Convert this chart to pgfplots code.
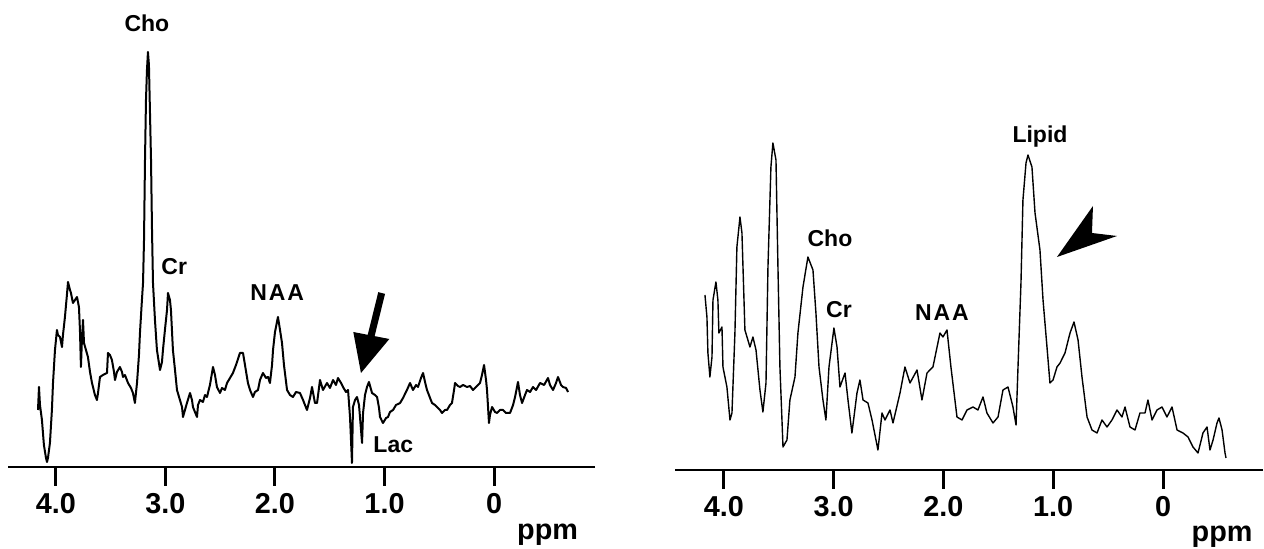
\documentclass[border=0pt]{standalone}
\usepackage{fontspec}
\setmainfont{Liberation Sans}
\usepackage{pgfplots}
\pgfplotsset{compat=1.18}
\tikzset{lab/.style={font=\fontsize{11.5}{14}\selectfont\bfseries, inner sep=0pt, anchor=center}}
\begin{document}
\begin{tikzpicture}
\path[use as bounding box] (0,0) rectangle (632pt,274.5pt);
\pgfplotsset{
  spec/.style={
    scale only axis,
    x dir=reverse,
    ymin=0, ymax=420, height=210pt,
    axis x line=bottom, axis y line=none,
    axis line style={line width=1.4pt,-},
    tick align=outside, major tick length=9.5pt,
    xtick={0,1,2,3,4}, xticklabels={0,1.0,2.0,3.0,4.0},
    xtick style={line width=1.5pt,black},
    xticklabel style={font=\fontsize{14.4}{17}\selectfont\bfseries},
    clip=false,
  },
}
% ---------------- left spectrum ----------------
\begin{axis}[spec, at={(4pt,41pt)}, anchor=south west,
  xmin=-0.922, xmax=4.438, width=293.5pt]
\addplot[black, line width=1.0pt, line join=round] coordinates {
(4.164,57)(4.155,80)(4.146,62)(4.128,47)(4.110,22)(4.091,9)(4.082,5)(4.073,9)(4.055,24)(4.037,57)
(4.027,84)(4.009,117)(3.991,137)(3.982,132)(3.963,130)(3.945,120)(3.936,132)(3.918,150)(3.900,172)(3.890,185)
(3.872,177)(3.863,174)(3.845,164)(3.826,167)(3.808,170)(3.799,165)(3.790,160)(3.781,137)(3.772,100)(3.763,127)
(3.753,147)(3.744,124)(3.726,117)(3.708,110)(3.689,95)(3.671,84)(3.644,72)(3.626,67)(3.616,74)(3.598,90)
(3.571,92)(3.534,94)(3.525,114)(3.507,112)(3.489,107)(3.470,95)(3.461,87)(3.443,95)(3.416,100)(3.397,95)
(3.388,90)(3.370,92)(3.342,84)(3.315,79)(3.297,74)(3.279,64)(3.260,84)(3.242,112)(3.233,134)(3.215,167)
(3.205,184)(3.196,227)(3.187,307)(3.178,367)(3.169,397)(3.160,415)(3.151,402)(3.142,357)(3.132,307)(3.123,237)
(3.114,184)(3.096,147)(3.078,117)(3.050,97)(3.032,105)(3.023,117)(3.005,137)(2.986,157)(2.977,174)(2.959,167)
(2.950,157)(2.932,117)(2.913,97)(2.895,77)(2.868,67)(2.849,60)(2.840,50)(2.822,57)(2.804,64)(2.776,74)
(2.758,67)(2.749,60)(2.731,55)(2.712,50)(2.703,62)(2.685,67)(2.658,65)(2.639,72)(2.621,70)(2.594,82)
(2.566,100)(2.548,92)(2.530,80)(2.502,74)(2.484,79)(2.457,77)(2.438,84)(2.411,89)(2.384,94)(2.356,102)
(2.320,114)(2.292,114)(2.274,102)(2.247,84)(2.228,77)(2.201,70)(2.183,75)(2.155,77)(2.137,87)(2.110,94)
(2.082,89)(2.064,90)(2.046,84)(2.027,102)(2.018,117)(2.000,135)(1.973,150)(1.954,137)(1.936,124)(1.918,102)
(1.890,77)(1.863,72)(1.836,70)(1.808,75)(1.772,74)(1.744,67)(1.708,57)(1.680,69)(1.662,80)(1.635,64)
(1.616,64)(1.589,87)(1.562,77)(1.525,84)(1.498,79)(1.470,87)(1.443,82)(1.425,89)(1.397,84)(1.379,80)
(1.352,75)(1.333,77)(1.315,50)(1.306,27)(1.297,4)(1.288,60)(1.269,67)(1.251,70)(1.233,62)(1.224,50)
(1.205,24)(1.196,54)(1.178,72)(1.160,80)(1.142,85)(1.114,74)(1.087,72)(1.068,70)(1.050,59)(1.041,50)
(1.014,44)(0.986,49)(0.968,50)(0.950,55)(0.922,57)(0.895,62)(0.858,64)(0.831,69)(0.795,77)(0.767,84)
(0.740,77)(0.712,82)(0.694,80)(0.667,89)(0.648,94)(0.630,85)(0.612,77)(0.584,69)(0.566,64)(0.539,62)
(0.521,60)(0.493,57)(0.475,54)(0.447,57)(0.429,57)(0.402,62)(0.384,64)(0.365,77)(0.356,84)(0.329,81)
(0.311,80)(0.283,82)(0.247,80)(0.219,81)(0.192,77)(0.164,80)(0.128,84)(0.110,92)(0.091,102)(0.073,87)
(0.064,77)(0.046,44)(0.037,52)(0.018,60)(-0.009,55)(-0.027,54)(-0.055,57)(-0.082,57)(-0.110,54)(-0.146,54)
(-0.174,62)(-0.192,70)(-0.219,85)(-0.237,72)(-0.256,64)(-0.283,72)(-0.301,77)(-0.329,75)(-0.356,80)(-0.384,77)
(-0.420,84)(-0.457,82)(-0.493,89)(-0.511,82)(-0.539,77)(-0.566,84)(-0.584,90)(-0.612,82)(-0.630,80)(-0.658,79)
(-0.676,75)
};
\node[lab] at (axis cs:3.17,444) {Cho};
\node[lab] at (axis cs:2.92,200) {Cr};
\node[lab] at (axis cs:1.98,174) {N\kern1pt A\kern1pt A};
\node[lab] at (axis cs:0.92,22) {Lac};
\node[font=\fontsize{14.4}{17}\selectfont\bfseries, inner sep=0pt] at (axis cs:-0.489,-68) {ppm};
\draw[line width=3.5pt] (axis cs:1.026,174) -- (axis cs:1.123,131);
\fill (axis cs:1.215,94) -- (axis cs:1.285,135) -- (axis cs:0.956,128) -- cycle;
\end{axis}
% ---------------- right spectrum ----------------
\begin{axis}[spec, at={(337.5pt,39.5pt)}, anchor=south west,
  xmin=-0.911, xmax=4.446, width=294pt]
\addplot[black, line width=0.7pt, line join=round] coordinates {
(4.173,175)(4.155,153)(4.146,117)(4.128,93)(4.109,113)(4.100,170)(4.073,188)(4.055,170)(4.046,137)(4.018,143)
(4.009,103)(3.973,83)(3.945,50)(3.927,57)(3.900,137)(3.882,223)(3.854,253)(3.836,237)(3.809,140)(3.763,123)
(3.736,133)(3.708,120)(3.672,80)(3.645,58)(3.617,87)(3.599,203)(3.572,303)(3.554,327)(3.526,310)(3.508,203)
(3.490,103)(3.462,23)(3.426,30)(3.399,70)(3.353,93)(3.326,137)(3.280,183)(3.235,213)(3.189,200)(3.162,157)
(3.134,103)(3.098,70)(3.071,50)(3.043,103)(2.998,142)(2.970,123)(2.943,83)(2.897,97)(2.870,70)(2.834,37)
(2.788,77)(2.761,90)(2.733,70)(2.688,67)(2.651,50)(2.597,20)(2.560,57)(2.533,50)(2.487,60)(2.460,47)
(2.396,77)(2.351,103)(2.305,87)(2.241,100)(2.196,70)(2.150,97)(2.096,103)(2.032,137)(2.005,133)(1.968,140)
(1.932,103)(1.877,53)(1.831,50)(1.786,60)(1.731,63)(1.686,60)(1.640,73)(1.604,57)(1.549,47)(1.503,53)
(1.458,80)(1.412,83)(1.367,63)(1.339,45)(1.321,103)(1.294,187)(1.276,270)(1.248,307)(1.230,315)(1.194,303)
(1.166,257)(1.121,220)(1.093,170)(1.057,123)(1.030,87)(1.002,90)(0.966,103)(0.938,107)(0.893,117)(0.847,137)
(0.811,148)(0.774,130)(0.738,93)(0.692,53)(0.647,40)(0.601,37)(0.556,50)(0.510,43)(0.465,50)(0.419,60)
(0.374,53)(0.346,63)(0.301,43)(0.255,40)(0.210,57)(0.164,57)(0.137,70)(0.100,50)(0.055,60)(0.009,63)
(-0.036,53)(-0.082,63)(-0.128,40)(-0.182,37)(-0.228,33)(-0.273,23)(-0.319,17)(-0.364,37)(-0.401,43)(-0.428,20)
(-0.456,30)(-0.492,47)(-0.510,52)(-0.538,40)(-0.565,17)(-0.574,12)
};
\node[lab] at (axis cs:3.034,232) {Cho};
\node[lab] at (axis cs:2.952,160) {Cr};
\node[lab] at (axis cs:2.014,157) {N\kern1pt A\kern1pt A};
\node[lab] at (axis cs:1.121,333) {Lipid};
\node[font=\fontsize{14.4}{17}\selectfont\bfseries, inner sep=0pt] at (axis cs:-0.538,-67) {ppm};
\fill (axis cs:0.966,213) -- (axis cs:0.638,264) -- (axis cs:0.647,237) -- (axis cs:0.419,234) -- cycle;
\end{axis}
\end{tikzpicture}
\end{document}
